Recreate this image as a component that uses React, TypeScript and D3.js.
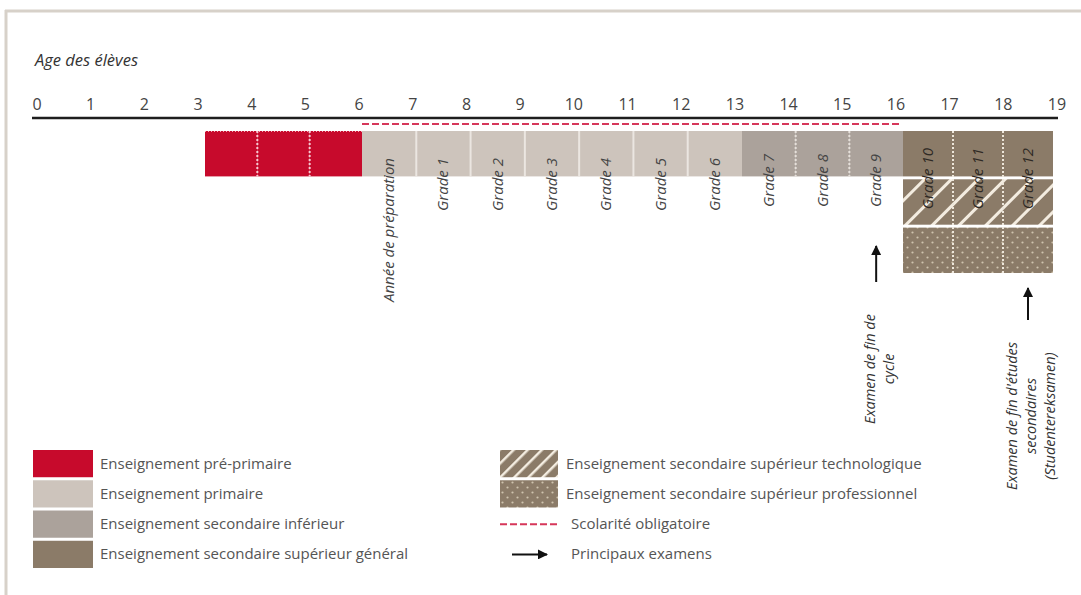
import React from 'react';
import * as d3 from 'd3';

// ages shown on the top axis
const ageTicks = [0, 1, 2, 3, 4, 5, 6, 7, 8, 9, 10, 11, 12, 13, 14, 15, 16, 17, 18, 19];

// one entry per school year, keyed by the age it starts at
const prePrimaryAges = [3, 4, 5];
const primaryAges = [6, 7, 8, 9, 10, 11, 12];
const primaryLabels = ['Année de préparation', 'Grade 1', 'Grade 2', 'Grade 3', 'Grade 4', 'Grade 5', 'Grade 6'];
const lowerAges = [13, 14, 15];
const lowerLabels = ['Grade 7', 'Grade 8', 'Grade 9'];
const upperAges = [16, 17, 18];
const upperLabels = ['Grade 10', 'Grade 11', 'Grade 12'];
const upperTracks = ['general', 'techno', 'pro'];

const compulsoryRange = [6, 16];

// exams sit under the year they close
const examAges = [15, 18];
const examLines = [
  ['Examen de fin de', 'cycle'],
  ["Examen de fin d'études", 'secondaires', '(Studentereksamen)'],
];

const legendLeftLabels = [
  'Enseignement pré-primaire',
  'Enseignement primaire',
  'Enseignement secondaire inférieur',
  'Enseignement secondaire supérieur général',
];
const legendRightLabels = [
  'Enseignement secondaire supérieur technologique',
  'Enseignement secondaire supérieur professionnel',
  'Scolarité obligatoire',
  'Principaux examens',
];

const RED = '#c70a2c';
const PRIMARY = '#cdc4bc';
const LOWER = '#aba29b';
const UPPER = '#8b7b68';
const FONT = "'Open Sans', sans-serif";

export default function App() {
  const width = 1081;
  const height = 595;

  const tickX = d3.scaleLinear().domain([0, 19]).range([37, 1057]);
  // year boundaries of the bars are not quite evenly spaced in the source
  const cellX = d3.scaleLinear().domain([3, 6, 13, 16, 19]).range([205, 362, 742, 903, 1053]);
  const rowY = d3.scaleBand<string>().domain(upperTracks).range([131, 273]).paddingInner(0.06);
  const legendY = d3.scaleBand<number>().domain([0, 1, 2, 3]).range([450, 568]).paddingInner(0.1);

  const top = rowY('general')!;
  const bh = rowY.bandwidth();

  const cell = (age: number) => ({ x0: cellX(age), x1: cellX(age + 1) });

  const rotatedLabel = (age: number, label: string, i: number, color: string, y: number) => {
    const { x0, x1 } = cell(age);
    const cx = (x0 + x1) / 2 + 5;
    return (
      <text
        key={`${label}-${i}`}
        transform={`translate(${cx},${y}) rotate(-90)`}
        textAnchor="end"
        fontFamily={FONT}
        fontStyle="italic"
        fontSize={15}
        fill={color}
      >
        {label}
      </text>
    );
  };

  const separators = (ages: number[], color: string, dash?: string) =>
    ages.slice(1).map(a => (
      <line
        key={`sep-${a}`}
        x1={cellX(a)}
        x2={cellX(a)}
        y1={top}
        y2={top + bh}
        stroke={color}
        strokeWidth={2}
        strokeDasharray={dash}
      />
    ));

  return (
    <svg width={width} height={height} style={{ position: 'absolute', left: 0, top: 0, background: '#fff' }}>
      <defs>
        <pattern id="hatch" patternUnits="userSpaceOnUse" width={19} height={19} patternTransform="rotate(45)">
          <rect width={19} height={19} fill={UPPER} />
          <rect width={3} height={19} fill="#f3ece0" />
        </pattern>
        <pattern id="hatchSmall" patternUnits="userSpaceOnUse" width={10} height={10} patternTransform="rotate(45)">
          <rect width={10} height={10} fill={UPPER} />
          <rect width={2.5} height={10} fill="#f3ece0" />
        </pattern>
        <pattern id="dots" patternUnits="userSpaceOnUse" width={10} height={10}>
          <rect width={10} height={10} fill={UPPER} />
          <circle cx={2.5} cy={2.5} r={1.1} fill="#cfc3ae" />
          <circle cx={7.5} cy={7.5} r={1.1} fill="#cfc3ae" />
        </pattern>
        <marker id="arrowHead" viewBox="0 0 10 10" refX={9} refY={5} markerWidth={5} markerHeight={5} orient="auto">
          <path d="M0,0 L10,5 L0,10 z" fill="#111" />
        </marker>
      </defs>

      {/* frame */}
      <line x1={5} x2={width} y1={11} y2={11} stroke="#d7d1c9" strokeWidth={3} />
      <line x1={6} x2={6} y1={10} y2={height} stroke="#d7d1c9" strokeWidth={3} />

      <text x={35} y={66} fontFamily={FONT} fontStyle="italic" fontSize={16.5} fill="#333">
        Age des élèves
      </text>

      {/* age axis */}
      {ageTicks.map(t => (
        <text key={t} x={tickX(t)} y={110} textAnchor="middle" fontFamily={FONT} fontSize={16} fill="#444">
          {t}
        </text>
      ))}
      <line x1={32} x2={1058} y1={118} y2={118} stroke="#1e1e1e" strokeWidth={2.5} />
      <line
        x1={cellX(compulsoryRange[0])}
        x2={cellX(compulsoryRange[1]) - 3}
        y1={124}
        y2={124}
        stroke="#d6375a"
        strokeWidth={2}
        strokeDasharray="7,3"
      />

      {/* pre-primary */}
      {prePrimaryAges.map(a => (
        <rect key={`pp-${a}`} x={cell(a).x0} y={top} width={cell(a).x1 - cell(a).x0} height={bh} fill={RED} />
      ))}
      {separators(prePrimaryAges, '#f7c9d2', '2,2')}
      <line x1={cellX(3)} x2={cellX(6)} y1={top + 0.5} y2={top + 0.5} stroke="#f3a9b8" strokeWidth={1} strokeDasharray="1,2" />

      {/* primary */}
      {primaryAges.map(a => (
        <rect key={`pr-${a}`} x={cell(a).x0} y={top} width={cell(a).x1 - cell(a).x0} height={bh} fill={PRIMARY} />
      ))}
      {separators(primaryAges, '#ebe6e1')}

      {/* lower secondary */}
      {lowerAges.map(a => (
        <rect key={`lo-${a}`} x={cell(a).x0} y={top} width={cell(a).x1 - cell(a).x0} height={bh} fill={LOWER} />
      ))}
      {separators(lowerAges, '#e6e0da', '2,2')}

      {/* upper secondary, three tracks */}
      {upperTracks.map(track =>
        upperAges.map(a => (
          <rect
            key={`up-${track}-${a}`}
            x={cell(a).x0}
            y={rowY(track)!}
            width={cell(a).x1 - cell(a).x0}
            height={bh}
            fill={track === 'general' ? UPPER : track === 'techno' ? 'url(#hatch)' : 'url(#dots)'}
          />
        ))
      )}
      {upperAges.slice(1).map(a => (
        <line
          key={`usep-${a}`}
          x1={cellX(a)}
          x2={cellX(a)}
          y1={top}
          y2={rowY('pro')! + bh}
          stroke="#ede6da"
          strokeWidth={2}
          strokeDasharray="2,2"
        />
      ))}

      {/* year labels */}
      {primaryAges.map((a, i) => rotatedLabel(a, primaryLabels[i], i, '#444', 158))}
      {lowerAges.map((a, i) => rotatedLabel(a, lowerLabels[i], i, '#444', 154))}
      {upperAges.map((a, i) => rotatedLabel(a, upperLabels[i], i, '#2e2924', 148))}

      {/* exams */}
      {examAges.map((a, i) => {
        const { x0, x1 } = cell(a);
        const cx = (x0 + x1) / 2;
        const yTop = i === 0 ? 245 : 287;
        const yBottom = i === 0 ? 282 : 320;
        const labelMid = i === 0 ? 369 : 416;
        const lines = examLines[i];
        const spacing = 19;
        return (
          <g key={`exam-${a}`}>
            <line x1={cx} x2={cx} y1={yBottom} y2={yTop + 1} stroke="#111" strokeWidth={2} markerEnd="url(#arrowHead)" />
            {lines.map((l, j) => (
              <text
                key={l}
                transform={`translate(${cx + 8 + (j - (lines.length - 1) / 2) * spacing},${labelMid}) rotate(-90)`}
                textAnchor="middle"
                fontFamily={FONT}
                fontStyle="italic"
                fontSize={14.5}
                fill="#333"
              >
                {l}
              </text>
            ))}
          </g>
        );
      })}

      {/* legend, left column */}
      {legendLeftLabels.map((l, i) => {
        const y = legendY(i)!;
        const fill = [RED, PRIMARY, LOWER, UPPER][i];
        return (
          <g key={l}>
            <rect x={33} y={y} width={60} height={legendY.bandwidth()} fill={fill} />
            <text x={100} y={y + legendY.bandwidth() / 2 + 5} fontFamily={FONT} fontSize={15} fill="#555">
              {l}
            </text>
          </g>
        );
      })}

      {/* legend, right column */}
      {legendRightLabels.map((l, i) => {
        const y = legendY(i)!;
        const mid = y + legendY.bandwidth() / 2;
        let mark: React.ReactNode = null;
        if (i === 0) mark = <rect x={500} y={y} width={58} height={legendY.bandwidth()} fill="url(#hatchSmall)" />;
        if (i === 1) mark = <rect x={500} y={y} width={58} height={legendY.bandwidth()} fill="url(#dots)" />;
        if (i === 2)
          mark = <line x1={500} x2={558} y1={mid} y2={mid} stroke="#d6375a" strokeWidth={2} strokeDasharray="7,3" />;
        if (i === 3)
          mark = (
            <line x1={512} x2={547} y1={mid} y2={mid} stroke="#111" strokeWidth={2} markerEnd="url(#arrowHead)" />
          );
        return (
          <g key={l}>
            {mark}
            <text x={i < 2 ? 566 : 571} y={mid + 5} fontFamily={FONT} fontSize={15} fill="#555">
              {l}
            </text>
          </g>
        );
      })}
    </svg>
  );
}
